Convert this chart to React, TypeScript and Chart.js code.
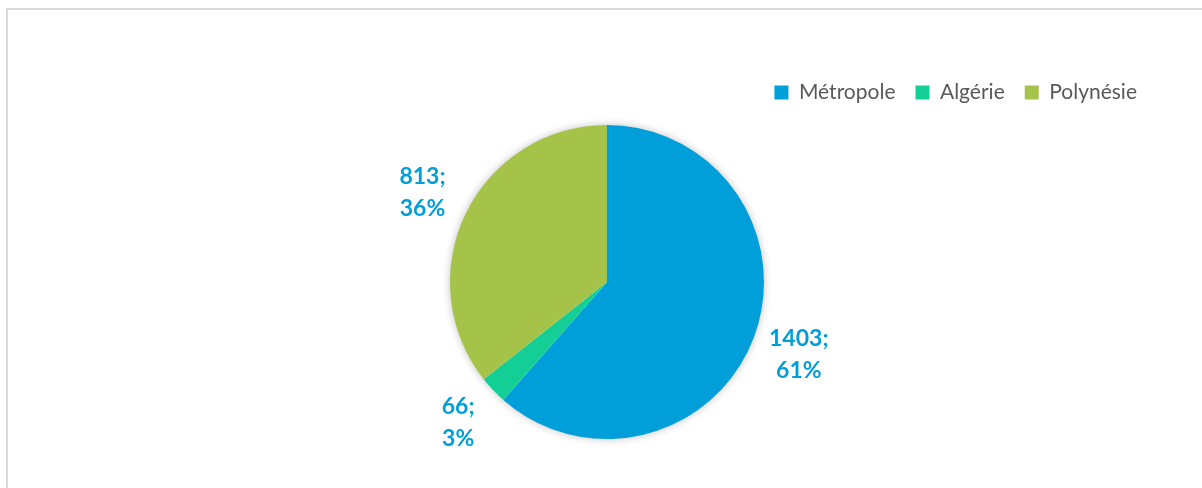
import React, { useEffect, useRef } from "react";
import { Chart, registerables } from "chart.js";

Chart.register(...registerables);

const categories = ["Métropole", "Algérie", "Polynésie"];
const values = [1403, 66, 813];
const colors = ["#009FDA", "#13CF96", "#A5C249"];
const labelColor = "#009FDA";

const shadowPlugin = {
  id: "pieShadow",
  beforeDatasetsDraw(chart: any) {
    const meta = chart.getDatasetMeta(0);
    const arc = meta.data[0];
    if (!arc) return;
    const { x, y, outerRadius } = arc.getProps(["x", "y", "outerRadius"], true);
    const ctx = chart.ctx;
    ctx.save();
    ctx.shadowColor = "rgba(0,0,0,0.28)";
    ctx.shadowBlur = 9;
    ctx.shadowOffsetX = 0;
    ctx.shadowOffsetY = 0;
    ctx.fillStyle = "#ffffff";
    ctx.beginPath();
    ctx.arc(x, y, outerRadius - 0.5, 0, Math.PI * 2);
    ctx.fill();
    ctx.restore();
  },
};

const labelPlugin = {
  id: "outsideLabels",
  afterDatasetsDraw(chart: any) {
    const meta = chart.getDatasetMeta(0);
    const ds = chart.data.datasets[0].data as number[];
    const total = ds.reduce((a, b) => a + b, 0);
    const ctx = chart.ctx;
    ctx.save();
    ctx.font = "bold 23px Lato";
    ctx.fillStyle = labelColor;
    ctx.textAlign = "center";
    ctx.textBaseline = "middle";
    meta.data.forEach((arc: any, i: number) => {
      const { x, y, startAngle, endAngle, outerRadius } = arc.getProps(
        ["x", "y", "startAngle", "endAngle", "outerRadius"],
        true
      );
      const mid = (startAngle + endAngle) / 2;
      const d = outerRadius + 48;
      const px = x + Math.cos(mid) * d;
      const py = y + Math.sin(mid) * d;
      const pct = Math.round((ds[i] / total) * 100);
      ctx.fillText(ds[i] + ";", px, py - 16);
      ctx.fillText(pct + "%", px, py + 16);
    });
    ctx.restore();
  },
};

export default function App() {
  const ref = useRef<HTMLCanvasElement | null>(null);
  useEffect(() => {
    if (!ref.current) return;
    const chart = new Chart(ref.current, {
      type: "pie",
      data: {
        labels: categories,
        datasets: [
          {
            data: values,
            backgroundColor: colors,
            borderWidth: 0,
            radius: 157,
          } as any,
        ],
      },
      options: {
        responsive: false,
        maintainAspectRatio: false,
        animation: false,
        layout: { padding: { top: 62, bottom: 37, left: 57, right: 45 } },
        plugins: {
          tooltip: { enabled: false },
          legend: {
            position: "top",
            align: "end",
            labels: {
              boxWidth: 14,
              boxHeight: 14,
              padding: 20,
              color: "#595959",
              font: { family: "Lato", size: 21 },
            },
          },
        },
      },
      plugins: [shadowPlugin, labelPlugin],
    });
    return () => chart.destroy();
  }, []);

  return (
    <div
      style={{
        position: "fixed",
        left: 0,
        top: 0,
        width: 1202,
        height: 488,
        overflow: "hidden",
        background: "#ffffff",
      }}
    >
      <div
        style={{
          position: "absolute",
          left: 6,
          top: 8,
          width: 1210,
          height: 500,
          border: "2px solid #d9d9d9",
          boxSizing: "border-box",
        }}
      />
      <canvas
        ref={ref}
        width={1202}
        height={488}
        style={{ position: "absolute", left: 0, top: 0 }}
      />
    </div>
  );
}
